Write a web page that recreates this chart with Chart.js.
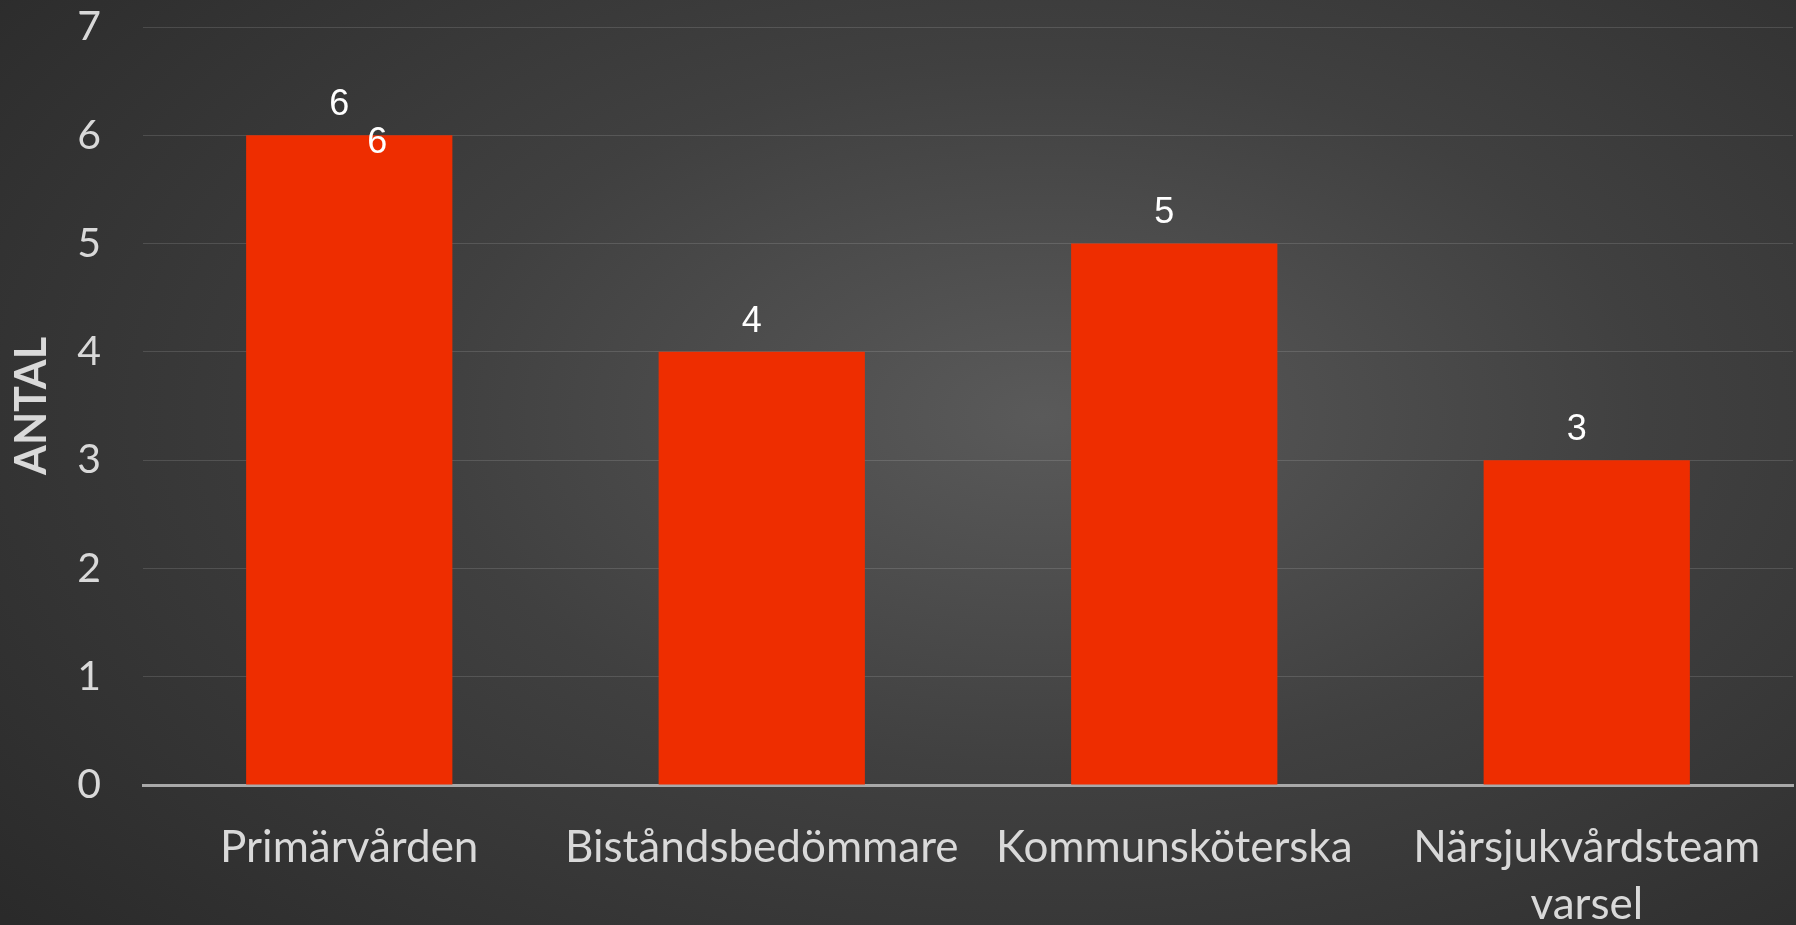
<!DOCTYPE html>
<html>
<head>
<meta charset="utf-8">
<script src="https://cdn.jsdelivr.net/npm/chart.js@4/dist/chart.umd.min.js"></script>
<style>
  html, body { margin: 0; padding: 0; }
  body {
    width: 1796px; height: 925px; overflow: hidden;
    background: radial-gradient(ellipse 75% 85% at 58% 45%, #5a5a5a 0%, #404040 45%, #2a2a2a 100%);
  }
  #wrap { position: relative; width: 1796px; height: 925px; }
</style>
</head>
<body>
<div id="wrap"><canvas id="grafico"></canvas></div>
<script>
const categorias = ["Primärvården", "Biståndsbedömmare", "Kommunsköterska", ["Närsjukvårdsteam", "varsel"]];
const antal = [6, 4, 5, 3];
// en extra, förskjuten etikett som syns på första stapeln
const extraEtiketter = [6, null, null, null];
const yTicks = [0, 1, 2, 3, 4, 5, 6, 7];

const etiketter = {
  id: "etiketter",
  afterDatasetsDraw(chart) {
    const ctx = chart.ctx;
    const meta = chart.getDatasetMeta(0);
    ctx.save();
    ctx.fillStyle = "#ffffff";
    ctx.font = "36px 'Liberation Sans', Arial, sans-serif";
    ctx.textAlign = "center";
    ctx.textBaseline = "middle";
    meta.data.forEach((bar, i) => {
      ctx.fillText(String(antal[i]), bar.x - 10, bar.y - 30);
      if (extraEtiketter[i] !== null) {
        ctx.fillText(String(extraEtiketter[i]), bar.x + 28, bar.y + 8);
      }
    });
    ctx.restore();
  },
};

const grafico = new Chart(document.getElementById("grafico"), {
  type: "bar",
  data: {
    labels: categorias,
    datasets: [
      {
        label: "Antal",
        data: antal,
        backgroundColor: "#ee2d00",
        borderWidth: 0,
        categoryPercentage: 1,
        barPercentage: 0.5,
      },
    ],
  },
  options: {
    responsive: true,
    maintainAspectRatio: false,
    animation: false,
    events: [],
    layout: { padding: { top: 27, right: 3, left: 0, bottom: 0 } },
    plugins: {
      legend: { display: false },
      tooltip: { enabled: false },
    },
    scales: {
      x: {
        grid: { display: false, drawTicks: false },
        border: { display: true, color: "#a9a9a9", width: 3 },
        ticks: {
          color: "#d9d9d9",
          font: { family: "Lato", size: 44, lineHeight: 1.3 },
          padding: 34,
          maxRotation: 0,
          autoSkip: false,
        },
        afterFit(axis) {
          axis.height = 140;
        },
      },
      y: {
        min: 0,
        max: 7,
        afterBuildTicks(axis) {
          axis.ticks = yTicks.map((v) => ({ value: v }));
        },
        grid: {
          color: "rgba(255,255,255,0.13)",
          lineWidth: 1,
          drawTicks: true,
          tickLength: 42,
          tickColor: "rgba(0,0,0,0)",
        },
        border: { display: false },
        ticks: {
          color: "#d9d9d9",
          font: { family: "Lato", size: 41 },
          padding: 0,
        },
        title: {
          display: true,
          text: "ANTAL",
          color: "#d9d9d9",
          font: { family: "Lato", size: 43, weight: "bold", lineHeight: 1.2 },
          padding: { top: 6, bottom: 0 },
        },
        afterFit(axis) {
          axis.width = 143;
        },
      },
    },
  },
  plugins: [etiketter],
});
</script>
</body>
</html>
